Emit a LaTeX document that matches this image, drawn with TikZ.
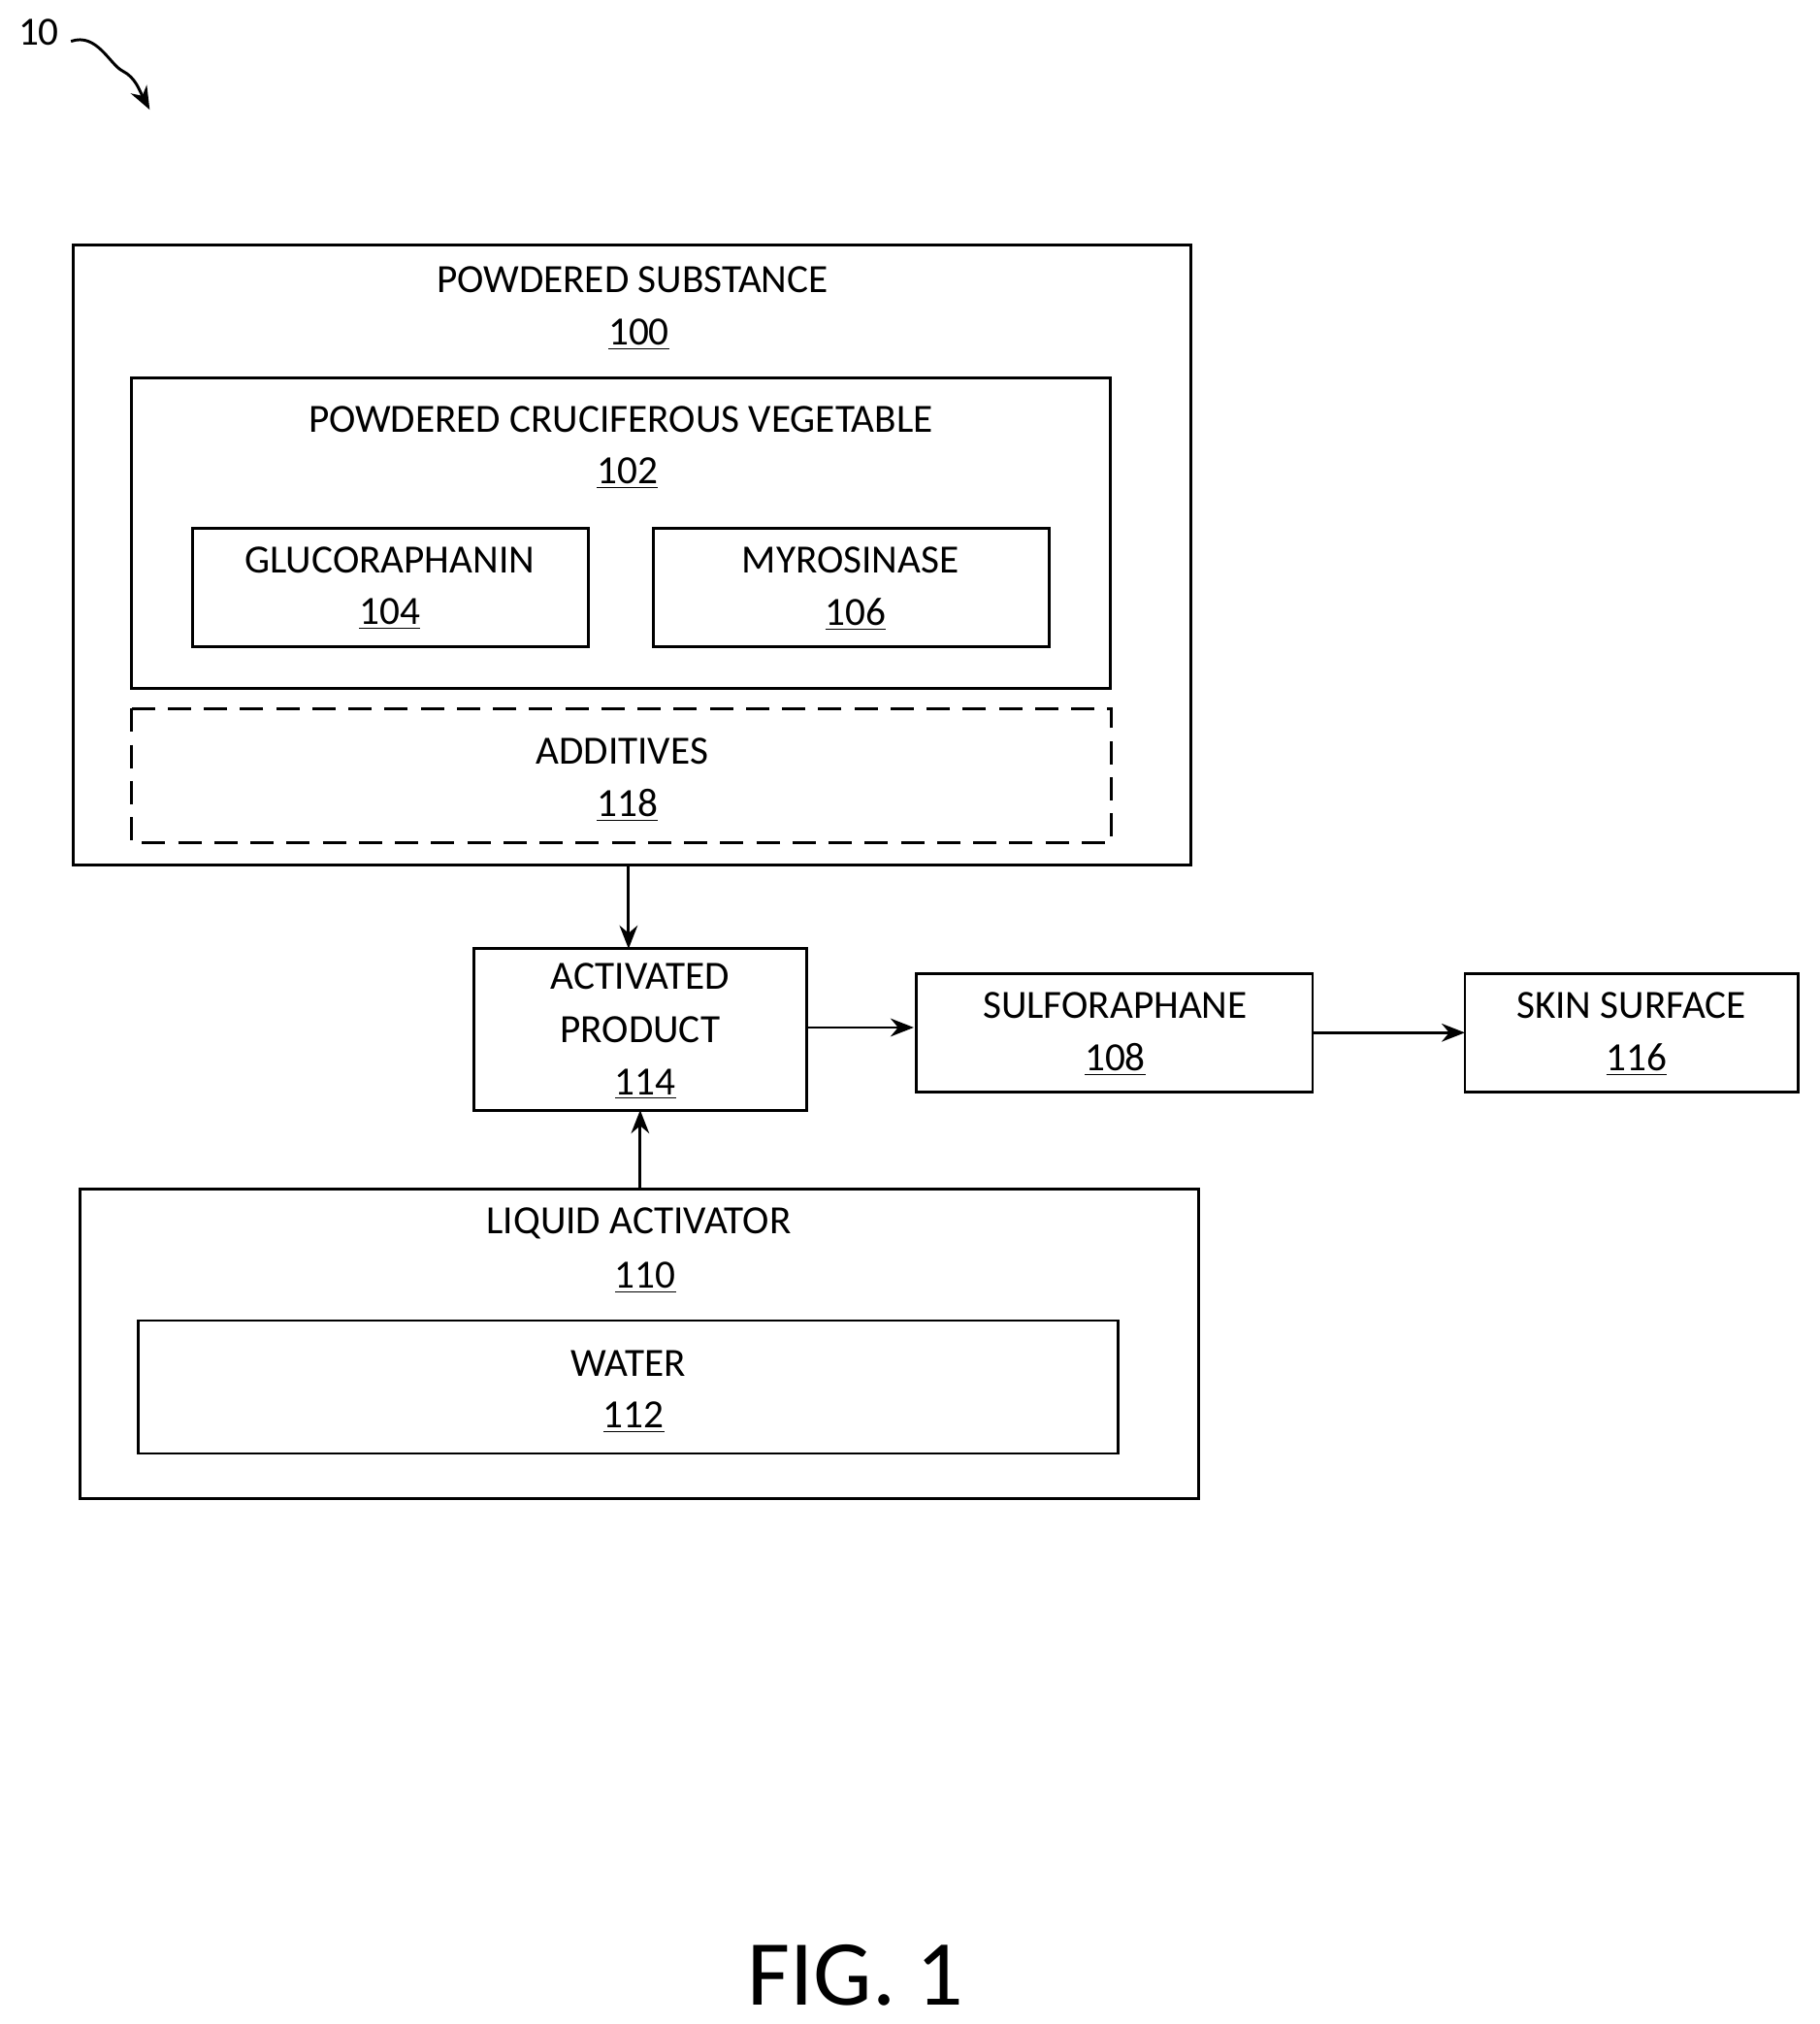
\documentclass[tikz,border=0pt]{standalone}
\usepackage{fontspec}
\setmainfont{Carlito}
\usetikzlibrary{arrows.meta}
\begin{document}
\begin{tikzpicture}[x=0.5pt,y=-0.5pt,
  box/.style={draw,line width=1.1pt},
  lbl/.style={inner sep=0pt,font=\fontsize{15.5}{18}\selectfont},
  arr/.style={draw,line width=1.1pt,-{Stealth[length=9pt,width=7pt]}}]
\useasboundingbox (0,0) rectangle (1410,1568);
\fill[white] (0,0) rectangle (1410,1568);
\node[lbl] (n10) at (30,25) {10};
\coordinate (a10) at (116,85);
\draw[line width=1.1pt,-{Stealth[length=9pt,width=7pt]}] (55,32) .. controls (75,25) and (85,50) .. (95,55) .. controls (105,60) and (108,70) .. (a10);
\draw[box] (57,190) rectangle (923,670) coordinate (b100);
\node[lbl] (t100) at (490,217) {POWDERED SUBSTANCE};
\node[lbl] (u100) at (495,259) {\underline{100}};
\draw[box] (102,293) rectangle (860,533);
\node[lbl] (t102) at (481,325) {POWDERED CRUCIFEROUS VEGETABLE};
\node[lbl] (u102) at (486,367) {\underline{102}};
\draw[box] (149,409) rectangle (456,501);
\node[lbl] (t104) at (302,434) {GLUCORAPHANIN};
\node[lbl] (u104) at (302,476) {\underline{104}};
\draw[box] (506,409) rectangle (813,501);
\node[lbl] (t106) at (659,434) {MYROSINASE};
\node[lbl] (u106) at (663,476) {\underline{106}};
\draw[box,dash pattern=on 9pt off 5pt] (102,549) rectangle (861,653);
\node[lbl] (t118) at (482,582) {ADDITIVES};
\node[lbl] (u118) at (486,624) {\underline{118}};
\draw[box] (367,735) rectangle (625,860);
\node[lbl] (t114a) at (496,756) {ACTIVATED};
\node[lbl] (t114b) at (496,798) {PRODUCT};
\node[lbl] (u114) at (500,840) {\underline{114}};
\draw[box] (710,754) rectangle (1017,846);
\node[lbl] (t108) at (864,779) {SULFORAPHANE};
\node[lbl] (u108) at (864,821) {\underline{108}};
\draw[box] (1135,754) rectangle (1393,846);
\node[lbl] (t116) at (1264,779) {SKIN SURFACE};
\node[lbl] (u116) at (1268,821) {\underline{116}};
\draw[box] (62,921) rectangle (929,1161);
\node[lbl] (t110) at (495,948) {LIQUID ACTIVATOR};
\node[lbl] (u110) at (500,990) {\underline{110}};
\draw[box] (107,1023) rectangle (866,1126);
\node[lbl] (t112) at (487,1056) {WATER};
\node[lbl] (u112) at (491,1098) {\underline{112}};
\coordinate (p1) at (487,670); \coordinate (p2) at (487,735);
\coordinate (p3) at (496,921); \coordinate (p4) at (496,860);
\coordinate (p5) at (625,796); \coordinate (p6) at (708,796);
\coordinate (p7) at (1017,800); \coordinate (p8) at (1135,800);
\draw[arr] (p1) -- (p2);
\draw[arr] (p3) -- (p4);
\draw[arr] (p5) -- (p6);
\draw[arr] (p7) -- (p8);
\node[inner sep=0pt,font=\fontsize{36}{40}\selectfont] (fig) at (663,1530) {FIG. 1};
\end{tikzpicture}
\end{document}
